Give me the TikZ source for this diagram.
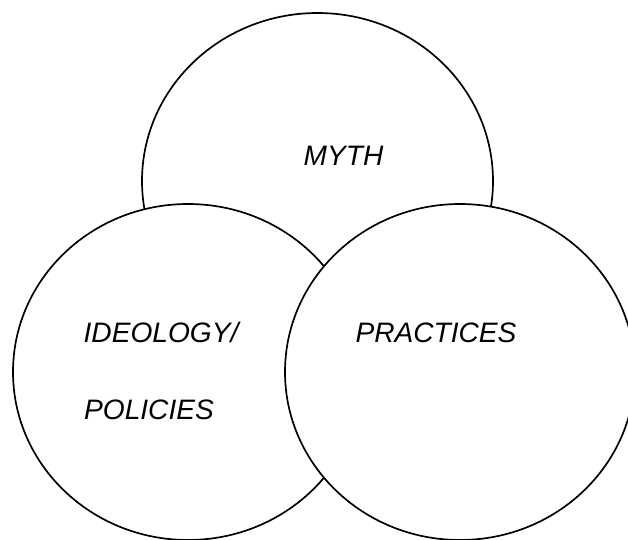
\documentclass[tikz,border=0pt]{standalone}
\usepackage{fontspec}
\setmainfont{Liberation Sans}
\usetikzlibrary{positioning}

\tikzset{
  ring/.style={draw=black, fill=white, line width=1.2pt},
  ringlabel/.style={font=\fontsize{20pt}{24pt}\selectfont\itshape, inner sep=0pt, anchor=base}
}

\begin{document}
\begin{tikzpicture}[
  x=1cm,
  y=1cm,
  line cap=round,
  line join=round
]

% Page frame
\useasboundingbox (0,0) rectangle (15.7,13.475);

% Top ring, drawn first so the lower rings cover it
\filldraw[ring] (7.9375,8.95) ellipse [x radius=4.3875, y radius=4.2];

% Lower left ring
\filldraw[ring] (4.7,4.175) ellipse [x radius=4.375, y radius=4.2];

% Lower right ring, on top of the other two
\filldraw[ring] (11.5,4.175) ellipse [x radius=4.375, y radius=4.2];

% Labels
\node[ringlabel] (myth) at (8.5875,9.325) {MYTH};
\node[ringlabel] (ideology) at (4.025,4.9) {IDEOLOGY/};
\node[ringlabel] (policies) at (3.725,2.975) {POLICIES};
\node[ringlabel] (practices) at (10.9,4.9) {PRACTICES};

\end{tikzpicture}
\end{document}
